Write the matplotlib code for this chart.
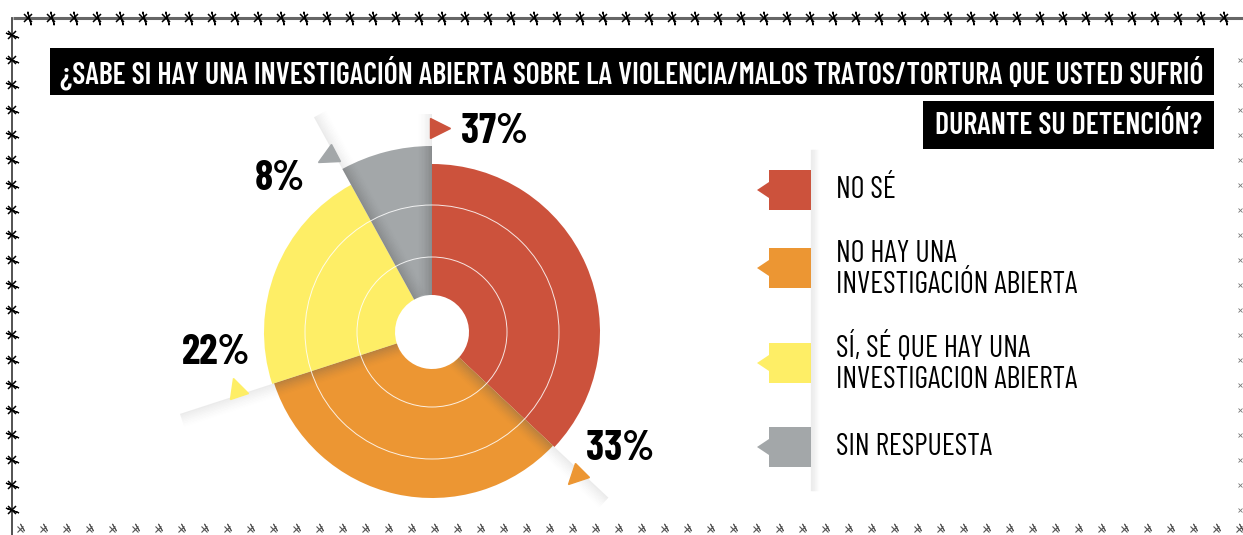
import matplotlib
matplotlib.use("Agg")
import matplotlib.pyplot as plt
import numpy as np
from matplotlib.markers import MarkerStyle
from matplotlib.patches import Circle, Polygon, Rectangle
from matplotlib.transforms import Affine2D

# data
TITLE_1 = "¿SABE SI HAY UNA INVESTIGACIÓN ABIERTA SOBRE LA VIOLENCIA/MALOS TRATOS/TORTURA QUE USTED SUFRIÓ"
TITLE_2 = "DURANTE SU DETENCIÓN?"
LABELS = ["NO SÉ", "NO HAY UNA\nINVESTIGACIÓN ABIERTA",
          "SÍ, SÉ QUE HAY UNA\nINVESTIGACION ABIERTA", "SIN RESPUESTA"]
VALUES = [37, 33, 22, 8]
COLORS = ["#CC523C", "#EC9633", "#FEEE66", "#A3A7A9"]

# layout (pixels)
W, H = 1243, 535
CX, CY = 432, 332
RADII = [168, 166, 168, 186]
HOLE = 37
PCT_XY = [(494, 132), (620, 449), (216, 353), (280, 179)]
TRI_DIR = [-90, -90, -90, 90]       # triangle direction relative to slice start edge
LEGEND_Y = [190, 268, 363, 447]

FONT = ["Barlow Condensed", "DejaVu Sans"]

fig = plt.figure(figsize=(W / 100, H / 100), dpi=100)
ax = fig.add_axes([0, 0, 1, 1])
ax.set_xlim(0, W)
ax.set_ylim(H, 0)
ax.axis("off")
renderer = fig.canvas.get_renderer()


def fit_size(sample, width, cap, weight):
    t = ax.text(0, -100, sample, fontsize=20, family=FONT, fontweight=weight)
    bb = t.get_window_extent(renderer)
    t.remove()
    s_w = 20 * width / bb.width
    s_h = cap / 0.70 * 0.72
    return min(s_w, s_h)


# barbed wire border
ax.plot([13, W], [18, 18], color="#666666", lw=2.2, solid_capstyle="butt")
ax.plot([12, 12], [18, H], color="#444444", lw=1.3)
top_x = np.arange(28, W, 23)
left_y = np.arange(35, H, 25)
bot_x = np.arange(20, W, 23)
right_y = np.arange(60, H - 10, 25)
ax.plot(top_x, np.full_like(top_x, 18.0), ls="none", marker="x", ms=6, mew=1.1, color="black")
ax.plot(top_x + 1, np.full_like(top_x, 18.0), ls="none", marker=(2, 2, 15), ms=10, mew=0.9, color="black")
ax.plot(np.full_like(left_y, 12.0), left_y, ls="none", marker="x", ms=6, mew=1.1, color="black")
ax.plot(np.full_like(left_y, 12.0), left_y, ls="none", marker=(2, 2, 70), ms=10, mew=0.9, color="black")
ax.plot(bot_x, np.full_like(bot_x, 529.0), ls="none", marker="x", ms=4, mew=0.8, color="#555555")
ax.plot(bot_x + 2, np.full_like(bot_x, 527.0), ls="none", marker=(2, 2, 30), ms=6, mew=0.7, color="#555555")
ax.plot(np.full_like(right_y, 1240.0), right_y, ls="none", marker="x", ms=3, mew=0.6, color="#777777")

# title boxes
ax.add_patch(Rectangle((50, 48), 1164, 47, color="black", lw=0))
ax.add_patch(Rectangle((923, 101), 291, 48, color="black", lw=0))
title_size = fit_size(TITLE_1, 1140, 22, "semibold")
ax.text(632, 73, TITLE_1, color="white", fontweight="semibold", ha="center", va="center",
        fontsize=title_size, family=FONT)
ax.text(1069, 126, TITLE_2, color="white", fontweight="semibold", ha="center", va="center",
        fontsize=title_size, family=FONT)

# legend
leg_size = fit_size("INVESTIGACIÓN ABIERTA", 246, 21, "normal")
for lab, col, yc in zip(LABELS, COLORS, LEGEND_Y):
    y0, y1 = yc - 20, yc + 20
    ax.add_patch(Polygon([(811, y0), (769, y0), (769, yc - 8), (757, yc), (769, yc + 8),
                          (769, y1), (811, y1)], closed=True, color=col, lw=0))
    lines = lab.split("\n")
    base = [yc + 8] if len(lines) == 1 else [yc - 6, yc + 25]
    for ln, b in zip(lines, base):
        ax.text(836, b, ln, ha="left", va="baseline", fontsize=leg_size,
                fontweight="normal", family=FONT)
for k in range(8):
    ax.plot([811 + k, 811 + k], [150, 490], color="#aaaaaa", alpha=0.18 * (1 - k / 8), lw=1)

# pie
R = 280
pax = fig.add_axes([(CX - R) / W, (H - CY - R) / H, 2 * R / W, 2 * R / H])
wedges, _ = pax.pie(VALUES, colors=COLORS, startangle=90, counterclock=False, radius=RADII[0],
                    wedgeprops={"width": RADII[0] - HOLE, "linewidth": 0})
for w, r in zip(wedges, RADII):
    w.set_radius(r)
    w.set_width(r - HOLE)
pax.set_xlim(-R, R)
pax.set_ylim(-R, R)
pax.set_aspect("auto")
pax.axis("off")

for rr in (75, 127):
    pax.add_patch(Circle((0, 0), rr, fill=False, ec="white", lw=0.7, alpha=0.85, zorder=3))


def shade(theta, r0, r1, side, width=14, a0=0.28, color="#555555"):
    th = np.radians(theta)
    u = np.array([np.cos(th), np.sin(th)])
    p = np.array([-np.sin(th), np.cos(th)]) * side
    n = 10
    for k in range(n):
        o0, o1 = width * k / n, width * (k + 1) / n
        pts = [u * r0 + p * o0, u * r1 + p * o0, u * r1 + p * o1, u * r0 + p * o1]
        pax.add_patch(Polygon(pts, closed=True, color=color, alpha=a0 * (1 - k / n) ** 1.5,
                              lw=0, zorder=2))


starts = 90 - 360 * np.cumsum([0] + VALUES[:-1]) / sum(VALUES)
# shadows cast along slice edges: darker on the slice, faint beyond it
edges = [(starts[0], 1, RADII[3], 218), (starts[3], -1, RADII[3], 245),
         (starts[2], 1, RADII[1], 265), (starts[1], -1, RADII[1], 242)]
for th, side, r_in, r_out in edges:
    shade(th, HOLE, r_in, side, width=14, a0=0.32)
    shade(th, r_in, r_out, side, width=14, a0=0.14, color="#777777")

# pointer triangles
for st, d, col in zip(starts, TRI_DIR, COLORS):
    di = st + d
    pos = 204 * np.array([np.cos(np.radians(st)), np.sin(np.radians(st))]) + \
        8 * np.array([np.cos(np.radians(di)), np.sin(np.radians(di))])
    m = MarkerStyle("^", transform=Affine2D().rotate_deg(di - 90))
    pax.plot(pos[0], pos[1], marker=m, ms=14, color=col, ls="none", zorder=4)

# percentage labels
pct_size = fit_size("37%", 68, 29, "bold")
for v, (x, y) in zip(VALUES, PCT_XY):
    ax.text(x, y, f"{v}%", ha="center", va="center", fontweight="bold",
            fontsize=pct_size, family=FONT)

fig.savefig("out.png", dpi=100)
